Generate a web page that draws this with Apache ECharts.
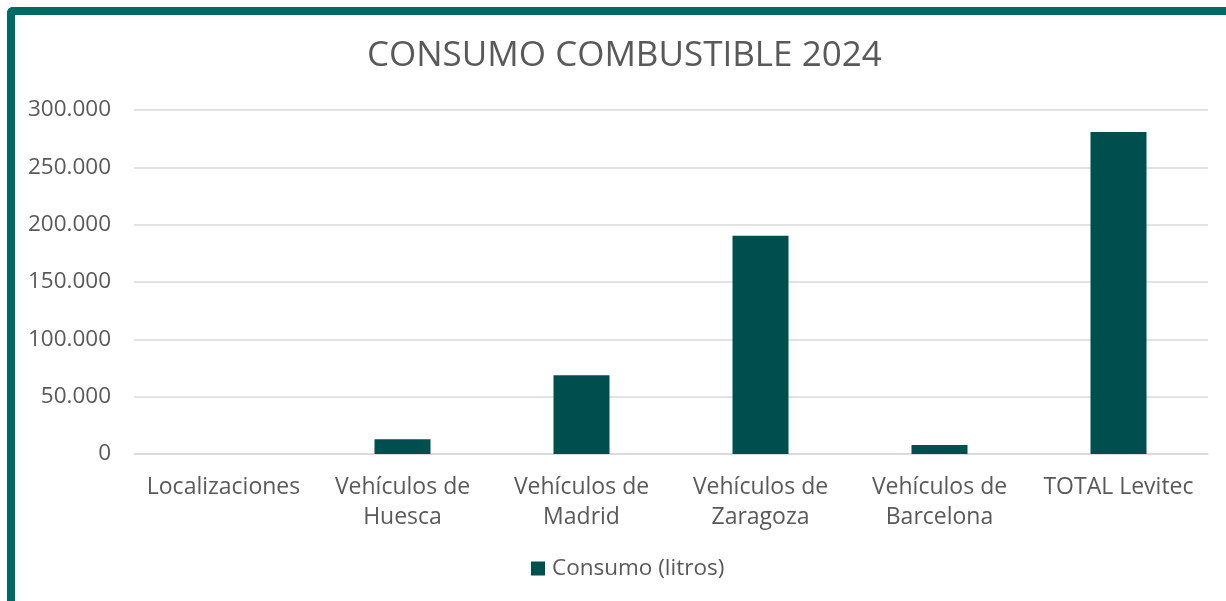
<!DOCTYPE html>
<html>
<head>
<meta charset="utf-8">
<script src="https://cdn.jsdelivr.net/npm/echarts@6/dist/echarts.min.js"></script>
<style>
    html, body { margin: 0; padding: 0; background: #fff; }
    #frame {
        position: absolute; left: 7px; top: 7px; width: 1219px; height: 594px;
        border-left: 8px solid #006966; border-top: 8px solid #006966;
        border-top-left-radius: 6px; box-sizing: border-box;
    }
    #chart { position: absolute; left: 0; top: 0; width: 1226px; height: 601px; }
</style>
</head>
<body>
<div id="frame"></div>
<div id="chart"></div>
<script>
    var categories = ['Localizaciones', 'Vehículos de\nHuesca', 'Vehículos de\nMadrid', 'Vehículos de\nZaragoza', 'Vehículos de\nBarcelona', 'TOTAL Levitec'];
    var consumo = [0, 12800, 68600, 190400, 7900, 280800];
    var seriesName = 'Consumo (litros)';
    var titleText = 'CONSUMO COMBUSTIBLE 2024';

    var txt = '#595959';
    var font = '"Open Sans", "Liberation Sans", sans-serif';

    var myChart = echarts.init(document.getElementById('chart'));
    var option = {
        animation: false,
        title: {
            text: titleText,
            left: 367,
            top: 39,
            padding: 0,
            textStyle: { color: txt, fontSize: 35, fontWeight: 'normal', fontFamily: font }
        },
        legend: {
            data: [seriesName],
            top: 552,
            left: 526,
            icon: 'rect',
            itemWidth: 14,
            itemHeight: 14,
            itemGap: 8,
            textStyle: { color: txt, fontSize: 22.5, fontFamily: font, padding: [0, 0, 0, 2] }
        },
        grid: { left: 134, right: 18, top: 110, bottom: 147 },
        xAxis: {
            type: 'category',
            data: categories,
            axisLine: { show: true, lineStyle: { color: '#d9d9d9', width: 1.5 } },
            axisTick: { show: false },
            axisLabel: { color: txt, fontSize: 23, fontFamily: font, lineHeight: 29.5, margin: 19, interval: 0 }
        },
        yAxis: {
            type: 'value',
            min: 0,
            max: 300000,
            interval: 50000,
            axisLine: { show: false },
            axisTick: { show: false },
            splitLine: { lineStyle: { color: '#d9d9d9', width: 1.5 } },
            axisLabel: {
                color: txt, fontSize: 22.5, fontFamily: font, margin: 23,
                formatter: function (v) {
                    return String(v).replace(/\B(?=(\d{3})+(?!\d))/g, '.');
                }
            }
        },
        series: [
            {
                name: seriesName,
                type: 'bar',
                data: consumo,
                barWidth: 56,
                itemStyle: { color: '#004f4f' }
            }
        ]
    };
    myChart.setOption(option);
</script>
</body>
</html>
